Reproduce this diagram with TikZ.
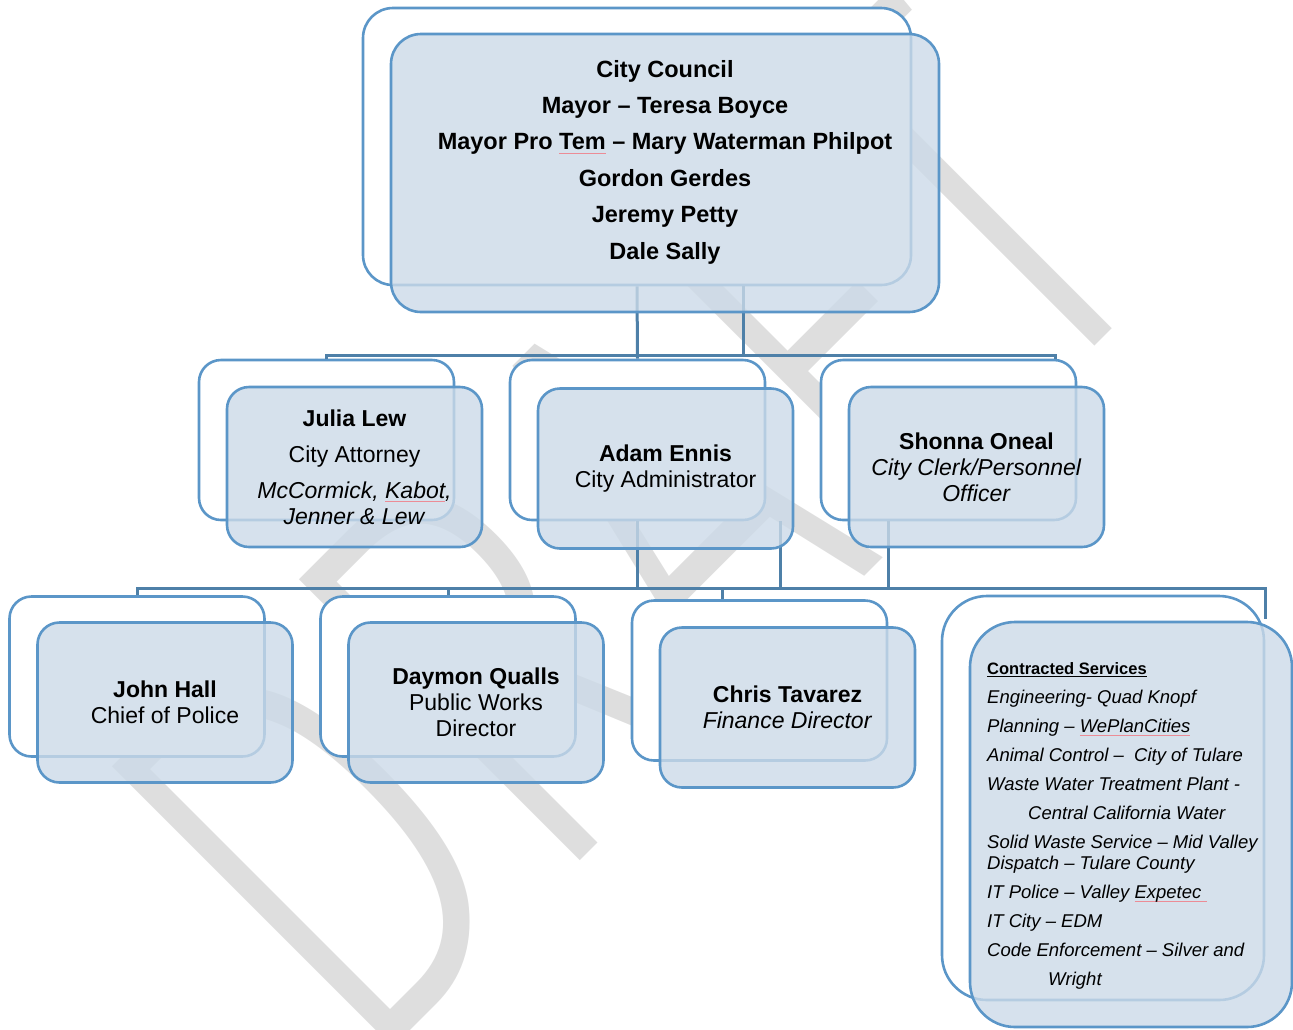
\documentclass[tikz,border=0pt]{standalone}
\usepackage{fontspec}
\setmainfont{Liberation Sans}
\IfFontExistsTF{Fira Sans Light}{\newfontfamily\wmfont{Fira Sans Light}}{%
  \IfFontExistsTF{Fira Sans ExtraLight}{\newfontfamily\wmfont{Fira Sans ExtraLight}}{\newfontfamily\wmfont{Fira Sans}}}

\definecolor{boxblue}{RGB}{91,150,200}
\definecolor{linkblue}{RGB}{78,128,168}
\definecolor{frontfill}{RGB}{204,218,232}
\definecolor{wmgrey}{RGB}{222,222,222}
\definecolor{spellred}{RGB}{236,140,150}

\newsavebox\spellbox
\newcommand{\spellmark}[1]{\sbox\spellbox{#1}\rlap{\textcolor{spellred}{\rule[-3.5pt]{\wd\spellbox}{0.6pt}}}\usebox\spellbox}

\begin{document}
\begin{tikzpicture}[x=1pt, y=-1pt,
  backbox/.style={rectangle, rounded corners=22pt, draw=boxblue, line width=2.6pt, fill=white, minimum width=255pt, minimum height=160pt, inner sep=0pt},
  frontbox/.style={backbox, fill=frontfill, fill opacity=0.8, text opacity=1, align=center, font=\fontsize{23}{26}\selectfont},
  link/.style={draw=linkblue, line width=3pt},
  draftmark/.style={text=wmgrey, font=\wmfont\fontsize{580}{580}\selectfont, rotate=45, xscale=0.72, inner sep=0pt}]
\useasboundingbox (0,0) rectangle (1293,1029);

% watermark behind everything
\begin{scope}
\clip (0,0) rectangle (1293,1029);
\node[draftmark] (draft) at (628,532) {DRAFT};
\end{scope}

\coordinate (topbus) at (0,355);
\coordinate (lowbus) at (0,588);

% back boxes
\node[backbox, minimum width=548pt, minimum height=277pt, rounded corners=30pt] (councilback) at (637,146.5) {};
\node[backbox] (juliaback) at (326.5,440) {};
\node[backbox] (adamback) at (637.5,440) {};
\node[backbox] (shonnaback) at (948.5,440) {};
\node[backbox] (johnback) at (137,676.5) {};
\node[backbox] (daymonback) at (448,676.5) {};
\node[backbox] (chrisback) at (759.5,680.5) {};
\node[backbox, minimum width=322pt, minimum height=404pt, rounded corners=45pt] (contractedback) at (1103,798) {};

% connectors
\draw[link] (councilback.south) -- (adamback.north);
\draw[link] ([xshift=106pt]councilback.south) -- ([xshift=106pt]councilback.south |- topbus);
\draw[link] (juliaback.north) -- (juliaback.north |- topbus) -- ([xshift=106.5pt]shonnaback.north |- topbus) -- ([xshift=106.5pt]shonnaback.north);
\draw[link] (adamback.south) -- (adamback.south |- lowbus);
\draw[link] ([xshift=142.5pt]adamback.south) -- ([xshift=142.5pt]adamback.south |- lowbus);
\draw[link] ([xshift=-60.5pt]shonnaback.south) -- ([xshift=-60.5pt]shonnaback.south |- lowbus);
\draw[link] (johnback.north) -- (johnback.north |- lowbus) -- (contractedback.north east |- lowbus) -- ([yshift=-24pt]contractedback.north east);
\draw[link] (daymonback.north) -- (daymonback.north |- lowbus);
\draw[link] ([xshift=-37.5pt]chrisback.north) -- ([xshift=-37.5pt]chrisback.north |- lowbus);

% front boxes
\node[frontbox, minimum width=548pt, minimum height=278pt, rounded corners=30pt] (council) at (665,173) {};
\node[align=center, font=\bfseries\fontsize{23.5}{36.4}\selectfont] (councilnames) at (665,162) {City Council\\Mayor – Teresa Boyce\\Mayor Pro \spellmark{Tem} – Mary Waterman Philpot\\Gordon Gerdes\\Jeremy Petty\\Dale Sally};
\node[frontbox] (julia) at (354.5,467) {\textbf{Julia Lew}\\[10pt]City Attorney\\[10pt]\textit{McCormick, \spellmark{Kabot},}\\\textit{Jenner \& Lew}};
\node[frontbox] (adam) at (665.5,468.5) {\textbf{Adam Ennis}\\City Administrator};
\node[frontbox] (shonna) at (976.5,467) {\textbf{Shonna Oneal}\\\textit{City Clerk/Personnel}\\\textit{Officer}};
\node[frontbox] (john) at (165,702.5) {\textbf{John Hall}\\Chief of Police};
\node[frontbox] (daymon) at (476,702.5) {\textbf{Daymon Qualls}\\Public Works\\Director};
\node[frontbox] (chris) at (787.5,707.5) {\textbf{Chris Tavarez}\\\textit{Finance Director}};
\node[frontbox, minimum width=322pt, minimum height=405pt, rounded corners=45pt] (contracted) at (1131,824.5) {};
\node[anchor=west, align=left, inner sep=0pt, font=\fontsize{18.5}{21}\selectfont\itshape] (contractedlist) at (987,826) {%
  {\upshape\bfseries\fontsize{16.5}{21}\selectfont\underline{Contracted Services}}\\[8pt]
  Engineering- Quad Knopf\\[8pt]
  Planning – \spellmark{WePlanCities}\\[8pt]
  Animal Control –\ \ City of Tulare\\[8pt]
  Waste Water Treatment Plant -\\[8pt]
  \hspace*{41pt}Central California Water\\[8pt]
  Solid Waste Service – Mid Valley\\
  Dispatch – Tulare County\\[8pt]
  IT Police – Valley \spellmark{Expetec\ }\\[8pt]
  IT City – EDM\\[8pt]
  Code Enforcement – Silver and\\[8pt]
  \hspace*{61pt}Wright};
\end{tikzpicture}
\end{document}
